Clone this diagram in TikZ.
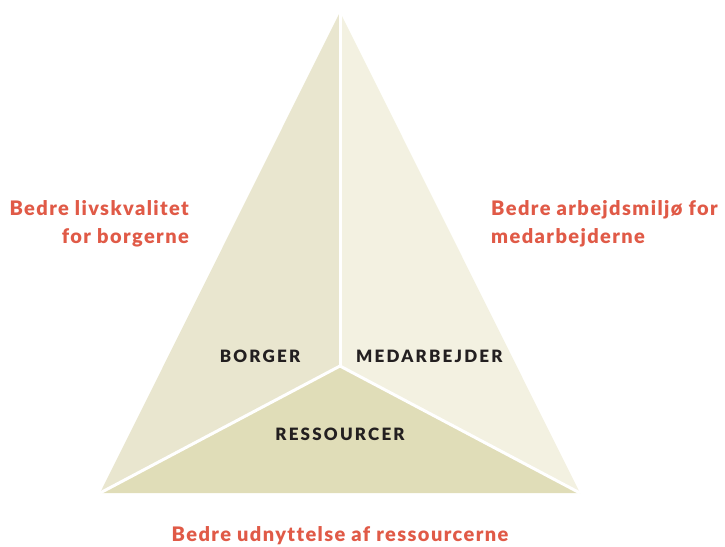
\documentclass[tikz,border=0pt]{standalone}
\usepackage{fontspec}
\setmainfont{Lato}[Ligatures=NoCommon,BoldFont={Lato Black}]
\definecolor{leftc}{HTML}{E9E6CF}
\definecolor{rightc}{HTML}{F3F1E1}
\definecolor{botc}{HTML}{E0DDB8}
\definecolor{redt}{HTML}{E05A47}
\definecolor{darkt}{HTML}{231F20}
\begin{document}
\begin{tikzpicture}[x=1pt,y=-1pt,
  goal/.style={text=redt,font=\bfseries\fontsize{20}{28}\selectfont\addfontfeature{LetterSpace=7},inner sep=0pt},
  part/.style={text=darkt,font=\bfseries\fontsize{17}{18}\selectfont\addfontfeature{LetterSpace=13},inner sep=0pt},
  sep/.style={draw=white,line width=3pt}]
\useasboundingbox (0,0) rectangle (725,546);
\coordinate (A) at (340,12);
\coordinate (L) at (100,493);
\coordinate (R) at (580,493);
\coordinate (C) at (340,366);
\fill[leftc] (A) -- (C) -- (L) -- cycle;
\fill[rightc] (A) -- (R) -- (C) -- cycle;
\fill[botc] (L) -- (C) -- (R) -- cycle;
\draw[sep] (A) -- (C);
\draw[sep] (C) -- (L);
\draw[sep] (C) -- (R);
\node[part] (borger) at (260,356) {BORGER};
\node[part,anchor=west] (medarb) at (356,356) {MEDARBEJDER};
\node[part] (ress) at (340,434) {RESSOURCER};
\node[goal,align=right,anchor=north east] (liv) at (189,200) {Bedre livskvalitet\\for borgerne};
\node[goal,align=left,anchor=north west] (arb) at (491,200) {Bedre arbejdsmiljø for\\medarbejderne};
\node[goal] (udn) at (340,536) {Bedre udnyttelse af ressourcerne};
\end{tikzpicture}
\end{document}
